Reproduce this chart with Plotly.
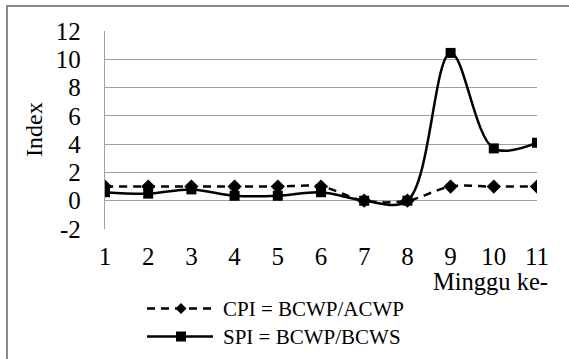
import plotly.graph_objects as go

weeks = [1, 2, 3, 4, 5, 6, 7, 8, 9, 10, 11]
cpi = [1.0, 1.0, 1.0, 1.0, 1.0, 1.0, 0.0, 0.0, 1.0, 1.0, 1.0]
spi = [0.6, 0.5, 0.8, 0.35, 0.35, 0.6, 0.0, 0.0, 10.45, 3.7, 4.1]
cpi_name = "CPI = BCWP/ACWP"
spi_name = "SPI = BCWP/BCWS"
y_ticks = [-2, 0, 2, 4, 6, 8, 10, 12]
y_tick_text = ["-2", "0", "2", "4", "6", "8", "10", "12"]

W, H = 569, 359
L, R, T, B = 105, 32, 31, 130
PW = W - L - R
PH = H - T - B
FONT = "Liberation Serif"


def px(x):
    return (x - L) / PW


def py(y):
    return (H - B - y) / PH


fig = go.Figure()
fig.add_trace(go.Scatter(
    x=weeks, y=cpi, mode="lines+markers", name=cpi_name,
    line=dict(color="black", width=2.5, dash="8px,6px", shape="spline", smoothing=1),
    marker=dict(symbol="diamond", size=11, color="black"),
))
fig.add_trace(go.Scatter(
    x=weeks, y=spi, mode="lines+markers", name=spi_name,
    line=dict(color="black", width=2.5, shape="spline", smoothing=1),
    marker=dict(symbol="square", size=10, color="black"),
))

shapes = []
# outer chart border (extends past the image on right/bottom)
shapes.append(dict(type="rect", xref="paper", yref="paper",
                   x0=px(7), x1=px(W + 20), y0=py(H + 20), y1=py(6),
                   line=dict(color="#8a8a8a", width=2), layer="below"))
# legend keys
row1, row2 = 308.5, 336.5
shapes.append(dict(type="line", xref="paper", yref="paper",
                   x0=px(147), x1=px(213), y0=py(row1), y1=py(row1),
                   line=dict(color="black", width=2.5, dash="8px,6px")))
shapes.append(dict(type="line", xref="paper", yref="paper",
                   x0=px(147), x1=px(213), y0=py(row2), y1=py(row2),
                   line=dict(color="black", width=2.5)))
cx = 181
d = 5.5
shapes.append(dict(type="path", xref="paper", yref="paper",
                   path=f"M {px(cx - d)},{py(row1)} L {px(cx)},{py(row1 - d)} L {px(cx + d)},{py(row1)} L {px(cx)},{py(row1 + d)} Z",
                   fillcolor="black", line=dict(width=0)))
s = 5
shapes.append(dict(type="rect", xref="paper", yref="paper",
                   x0=px(cx - s), x1=px(cx + s), y0=py(row2 + s), y1=py(row2 - s),
                   fillcolor="black", line=dict(width=0)))

annotations = [
    dict(text=cpi_name, xref="paper", yref="paper", x=px(221), y=py(row1),
         xanchor="left", yanchor="middle", showarrow=False,
         font=dict(family=FONT, size=21, color="black")),
    dict(text=spi_name, xref="paper", yref="paper", x=px(221), y=py(row2),
         xanchor="left", yanchor="middle", showarrow=False,
         font=dict(family=FONT, size=21, color="black")),
    dict(text="Minggu ke-", xref="paper", yref="paper", x=px(550), y=py(281),
         xanchor="right", yanchor="middle", showarrow=False,
         font=dict(family=FONT, size=24.5, color="black")),
    dict(text="Index", xref="paper", yref="paper", x=px(34), y=py(130),
         xanchor="center", yanchor="middle", showarrow=False, textangle=-90,
         font=dict(family=FONT, size=24, color="black")),
]

fig.update_layout(
    width=W, height=H,
    margin=dict(l=L, r=R, t=T, b=B),
    paper_bgcolor="white", plot_bgcolor="white",
    showlegend=False,
    font=dict(family=FONT, size=24, color="black"),
    shapes=shapes, annotations=annotations,
)
fig.update_xaxes(
    range=[1, 11], tickvals=weeks, ticktext=[str(w) for w in weeks],
    showgrid=False, zeroline=False, showline=False,
    ticks="outside", ticklen=5, tickcolor="rgba(0,0,0,0)",
    tickfont=dict(family=FONT, size=25, color="black"),
)
fig.update_yaxes(
    range=[-2, 12], tickvals=y_ticks, ticktext=y_tick_text,
    showgrid=True, gridcolor="#a0a0a0", gridwidth=1.3,
    zeroline=False, showline=True, linecolor="#a0a0a0", linewidth=1.3,
    ticks="", ticklabelstandoff=18,
    tickfont=dict(family=FONT, size=25, color="black"),
)

fig.write_html("out.html")
